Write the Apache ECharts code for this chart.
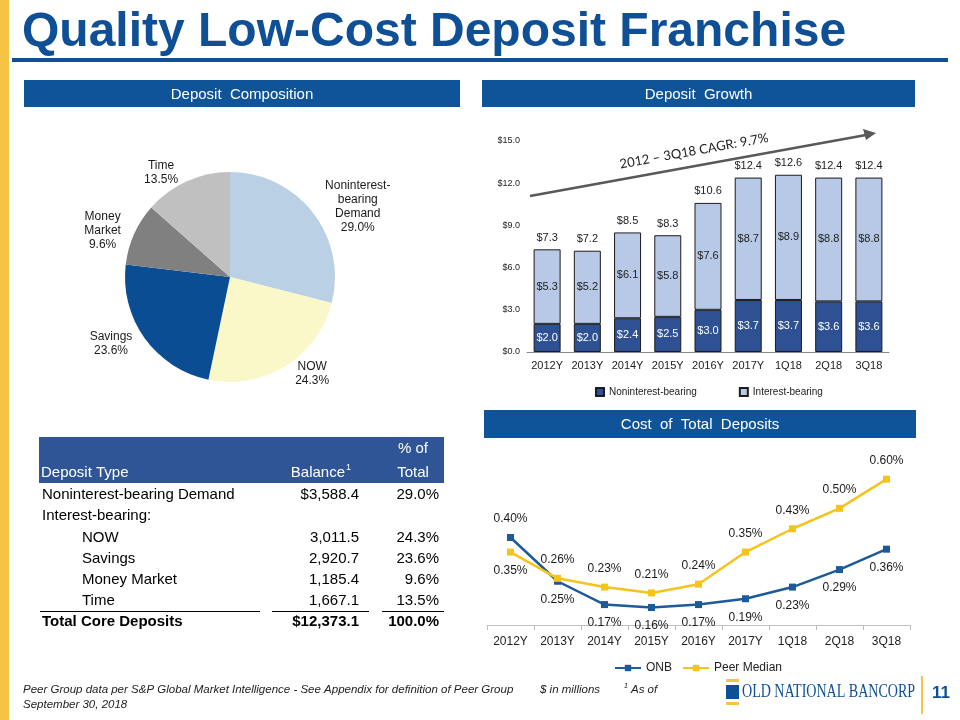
<!DOCTYPE html>
<html><head><meta charset="utf-8">
<script src="https://cdn.jsdelivr.net/npm/echarts@6/dist/echarts.min.js"></script>
<style>html,body{margin:0;padding:0;background:#fff}#c{width:960px;height:720px}</style>
</head><body><div id="c"></div>
<script>
// ---------- data ----------
const titleText = 'Quality Low-Cost Deposit Franchise';
const sectionTitles = ['Deposit  Composition', 'Deposit  Growth', 'Cost  of  Total  Deposits'];

const pieNames = ['Noninterest-bearing Demand', 'NOW', 'Savings', 'Money Market', 'Time'];
const pieLabels = ['Noninterest-\nbearing\nDemand', 'NOW', 'Savings', 'Money\nMarket', 'Time'];
const pieValues = [29.0, 24.3, 23.6, 9.6, 13.5];

const barCategories = ['2012Y', '2013Y', '2014Y', '2015Y', '2016Y', '2017Y', '1Q18', '2Q18', '3Q18'];
const nonInterest = [2.0, 2.0, 2.4, 2.5, 3.0, 3.7, 3.7, 3.6, 3.6];
const interestBearing = [5.3, 5.2, 6.1, 5.8, 7.6, 8.7, 8.9, 8.8, 8.8];
const barTotals = [7.3, 7.2, 8.5, 8.3, 10.6, 12.4, 12.6, 12.4, 12.4];
const barYTicks = [0, 3, 6, 9, 12, 15];
const cagrText = '2012 \u2013 3Q18 CAGR: 9.7%';

const lineCategories = ['2012Y', '2013Y', '2014Y', '2015Y', '2016Y', '2017Y', '1Q18', '2Q18', '3Q18'];
const onbCost = [0.40, 0.25, 0.17, 0.16, 0.17, 0.19, 0.23, 0.29, 0.36];
const peerCost = [0.35, 0.26, 0.23, 0.21, 0.24, 0.35, 0.43, 0.50, 0.60];

const tableHeader = ['Deposit Type', 'Balance', '% of\nTotal'];
const tableLabels = ['Noninterest-bearing Demand', 'Interest-bearing:', 'NOW', 'Savings', 'Money Market', 'Time', 'Total Core Deposits'];
const tableBalances = ['$3,588.4', '', '3,011.5', '2,920.7', '1,185.4', '1,667.1', '$12,373.1'];
const tablePcts = ['29.0%', '', '24.3%', '23.6%', '9.6%', '13.5%', '100.0%'];

const footnoteParts = ['Peer Group data per S&P Global Market Intelligence - See Appendix for definition of Peer Group', '$ in millions', 'As of'];
const footnote2 = 'September 30, 2018';
const logoText = 'OLD NATIONAL BANCORP';
const pageNumber = '11';

// ---------- styles ----------
const BLUE = '#0E4F96';
const HDR = '#0F5499';
const SANS = "'Liberation Sans', Arial, sans-serif";
const pieColors = ['#B9D0E5', '#FAF8C9', '#0A4D92', '#808080', '#C0C0C0'];

const chart = echarts.init(document.getElementById('c'));

const graphics = [];
// left stripe
graphics.push({type: 'rect', shape: {x: 0, y: 0, width: 9, height: 720}, style: {fill: '#F6C445'}});
// title
graphics.push({type: 'text', x: 22, y: 33, style: {text: titleText, font: 'bold 48px ' + SANS, fill: BLUE, verticalAlign: 'middle'}});
graphics.push({type: 'rect', shape: {x: 12, y: 58, width: 936, height: 4}, style: {fill: BLUE}});
// section headers
const boxes = [[24, 80, 436, 27], [482, 80, 433, 27], [484, 410, 432, 28]];
boxes.forEach((b, i) => {
  graphics.push({type: 'rect', shape: {x: b[0], y: b[1], width: b[2], height: b[3]}, style: {fill: HDR}});
  graphics.push({type: 'text', x: b[0] + b[2] / 2, y: b[1] + b[3] / 2 + 1, style: {text: sectionTitles[i], font: '15px ' + SANS, fill: '#fff', align: 'center', verticalAlign: 'middle'}});
});
// CAGR arrow
graphics.push({type: 'line', shape: {x1: 530, y1: 196, x2: 866, y2: 135}, style: {stroke: '#595959', lineWidth: 2.5}});
graphics.push({type: 'polygon', shape: {points: [[876, 133], [863, 129], [866, 140]]}, style: {fill: '#595959'}});
graphics.push({type: 'text', x: 694, y: 151, rotation: 10.2 * Math.PI / 180, style: {text: cagrText, font: '13px Lato, ' + SANS, fill: '#222', align: 'center', verticalAlign: 'middle'}});

// table
graphics.push({type: 'rect', shape: {x: 39, y: 437, width: 405, height: 46}, style: {fill: '#2F5597'}});
graphics.push({type: 'text', x: 41, y: 473, style: {text: tableHeader[0], font: '15px ' + SANS, fill: '#fff', verticalAlign: 'middle'}});
graphics.push({type: 'text', x: 345, y: 473, style: {text: tableHeader[1], font: '15px ' + SANS, fill: '#fff', align: 'right', verticalAlign: 'middle'}});
graphics.push({type: 'text', x: 346, y: 468, style: {text: '1', font: '9px ' + SANS, fill: '#fff', align: 'left', verticalAlign: 'middle'}});
graphics.push({type: 'text', x: 413, y: 461, style: {text: tableHeader[2], font: '15px ' + SANS, fill: '#fff', align: 'center', verticalAlign: 'middle', lineHeight: 24}});
tableLabels.forEach((lab, i) => {
  const y = 495 + i * 21.2;
  const last = i === tableLabels.length - 1;
  const indent = (i >= 2 && i <= 5) ? 40 : 0;
  const font = (last ? 'bold ' : '') + '15px ' + SANS;
  graphics.push({type: 'text', x: 42 + indent, y: y, style: {text: lab, font: font, fill: '#000', verticalAlign: 'middle'}});
  if (tableBalances[i]) graphics.push({type: 'text', x: 359, y: y, style: {text: tableBalances[i], font: font, fill: '#000', align: 'right', verticalAlign: 'middle'}});
  if (tablePcts[i]) graphics.push({type: 'text', x: 439, y: y, style: {text: tablePcts[i], font: font, fill: '#000', align: 'right', verticalAlign: 'middle'}});
});
[[40, 260], [272, 369], [382, 444]].forEach(s => {
  graphics.push({type: 'line', shape: {x1: s[0], y1: 611.5, x2: s[1], y2: 611.5}, style: {stroke: '#000', lineWidth: 1}});
});

// footer
const FN = 'italic 11.5px ' + SANS;
graphics.push({type: 'text', x: 23, y: 690, style: {text: footnoteParts[0], font: FN, fill: '#222', verticalAlign: 'middle'}});
graphics.push({type: 'text', x: 540, y: 690, style: {text: footnoteParts[1], font: FN, fill: '#222', verticalAlign: 'middle'}});
graphics.push({type: 'text', x: 624, y: 686, style: {text: '1', font: 'italic 7px ' + SANS, fill: '#222', verticalAlign: 'middle'}});
graphics.push({type: 'text', x: 631, y: 690, style: {text: footnoteParts[2], font: FN, fill: '#222', verticalAlign: 'middle'}});
graphics.push({type: 'text', x: 23, y: 705, style: {text: footnote2, font: FN, fill: '#222', verticalAlign: 'middle'}});
// logo
graphics.push({type: 'rect', shape: {x: 726, y: 679, width: 13, height: 3}, style: {fill: '#F6C445'}});
graphics.push({type: 'rect', shape: {x: 726, y: 685, width: 13, height: 14}, style: {fill: BLUE}});
graphics.push({type: 'rect', shape: {x: 726, y: 702, width: 13, height: 3}, style: {fill: '#F6C445'}});
graphics.push({type: 'text', x: 742, y: 692, scaleX: 0.78, style: {text: logoText, font: '18px "Liberation Serif", serif', fill: BLUE, verticalAlign: 'middle'}});
graphics.push({type: 'rect', shape: {x: 921, y: 676, width: 2, height: 38}, style: {fill: '#F6C445'}});
graphics.push({type: 'text', x: 941, y: 693, style: {text: pageNumber, font: 'bold 17px ' + SANS, fill: BLUE, align: 'center', verticalAlign: 'middle'}});

const lblColor = '#1a1a1a';
const onbPos = onbCost.map((v, i) => i === 0 ? 'top' : 'bottom');
const peerPos = peerCost.map((v, i) => i === 0 ? 'bottom' : 'top');

const option = {
  animation: false,
  backgroundColor: '#fff',
  textStyle: {fontFamily: SANS},
  graphic: graphics,
  legend: [
    {data: ['Noninterest-bearing', 'Interest-bearing'], left: 590, top: 382, itemWidth: 8, itemHeight: 8, itemGap: 42, icon: 'rect',
     textStyle: {fontSize: 10, color: '#222', fontFamily: SANS}},
    {data: ['ONB', 'Peer Median'], left: 609, top: 657, itemWidth: 26, itemHeight: 8, itemGap: 10,
     textStyle: {fontSize: 12, color: '#222', fontFamily: SANS}}
  ],
  grid: [
    {left: 527, top: 141, width: 362, height: 211},
    {left: 487, top: 450, width: 423, height: 175}
  ],
  xAxis: [
    {type: 'category', gridIndex: 0, data: barCategories, axisTick: {show: false},
     axisLine: {lineStyle: {color: '#888', width: 1}},
     axisLabel: {interval: 0, fontSize: 11, color: '#222', margin: 8, fontFamily: SANS}},
    {type: 'category', gridIndex: 1, data: lineCategories,
     axisTick: {show: true, lineStyle: {color: '#bbb'}, length: 5},
     axisLine: {lineStyle: {color: '#c0c0c0', width: 1}},
     axisLabel: {interval: 0, fontSize: 12, color: '#222', margin: 11, fontFamily: SANS}}
  ],
  yAxis: [
    {type: 'value', gridIndex: 0, min: barYTicks[0], max: barYTicks[barYTicks.length - 1], interval: barYTicks[1] - barYTicks[0],
     splitLine: {show: false}, axisLine: {show: false}, axisTick: {show: false},
     axisLabel: {fontSize: 9, color: '#222', margin: 7, formatter: v => '$' + v.toFixed(1)}},
    {type: 'value', gridIndex: 1, min: 0.1, max: 0.7, show: false, splitLine: {show: false}}
  ],
  series: [
    {type: 'pie', name: 'Deposit Composition', center: [230, 277], radius: 105, startAngle: 90, clockwise: true,
     itemStyle: {borderColor: '#fff', borderWidth: 0},
     data: pieNames.map((n, i) => ({name: n, value: pieValues[i], itemStyle: {color: pieColors[i]}})),
     label: {position: 'outside', formatter: p => pieLabels[p.dataIndex] + '\n' + p.value.toFixed(1) + '%',
             fontSize: 12, lineHeight: 14, color: '#1a1a1a', fontFamily: SANS},
     labelLine: {show: false, length: 9, length2: 0},
     labelLayout: p => ({x: p.labelRect.x + p.labelRect.width / 2, y: p.labelRect.y + p.labelRect.height / 2, align: 'center', verticalAlign: 'middle'})
    },
    {type: 'bar', name: 'Noninterest-bearing', xAxisIndex: 0, yAxisIndex: 0, stack: 'dep', data: nonInterest, barWidth: 27,
     itemStyle: {color: '#2E5193', borderColor: '#1c1c1c', borderWidth: 1},
     label: {show: true, position: 'inside', color: '#fff', fontSize: 11, formatter: p => '$' + p.value.toFixed(1)}},
    {type: 'bar', name: 'Interest-bearing', xAxisIndex: 0, yAxisIndex: 0, stack: 'dep', data: interestBearing, barWidth: 27,
     itemStyle: {color: '#B7C9E6', borderColor: '#1c1c1c', borderWidth: 1},
     label: {show: true, position: 'inside', color: '#222', fontSize: 11, formatter: p => '$' + p.value.toFixed(1)}},
    {type: 'bar', name: 'Total', xAxisIndex: 0, yAxisIndex: 0, stack: 'dep', data: barTotals.map(() => 0), barWidth: 27,
     itemStyle: {color: 'transparent'},
     label: {show: true, position: 'top', distance: 6, color: '#222', fontSize: 11, formatter: p => '$' + barTotals[p.dataIndex].toFixed(1)}},
    {type: 'line', name: 'ONB', xAxisIndex: 1, yAxisIndex: 1, data: onbCost.map((v, i) => ({value: v, label: {position: onbPos[i]}})),
     symbol: 'rect', symbolSize: 7, lineStyle: {color: '#1D5A9A', width: 2.5}, itemStyle: {color: '#1D5A9A'},
     label: {show: true, fontSize: 12, color: lblColor, distance: 9, formatter: p => p.value.toFixed(2) + '%'}},
    {type: 'line', name: 'Peer Median', xAxisIndex: 1, yAxisIndex: 1, data: peerCost.map((v, i) => ({value: v, label: {position: peerPos[i]}})),
     symbol: 'rect', symbolSize: 7, lineStyle: {color: '#F6C31C', width: 2.5}, itemStyle: {color: '#F6C31C'},
     label: {show: true, fontSize: 12, color: lblColor, distance: 9, formatter: p => p.value.toFixed(2) + '%'}}
  ]
};
chart.setOption(option);
</script></body></html>
